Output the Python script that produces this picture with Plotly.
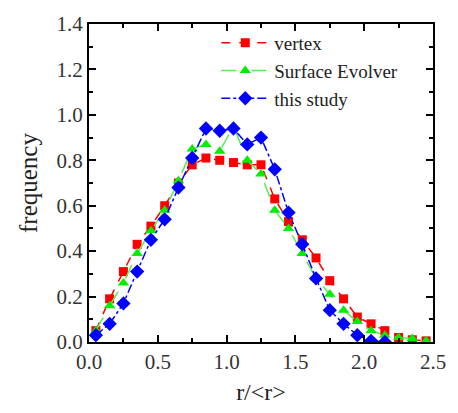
import plotly.graph_objects as go

# bin centres of r/<r>
r_bins = [0.05, 0.15, 0.25, 0.35, 0.45, 0.55, 0.65, 0.75, 0.85, 0.95,
          1.05, 1.15, 1.25, 1.35, 1.45, 1.55, 1.65, 1.75, 1.85, 1.95,
          2.05, 2.15, 2.25, 2.35, 2.45]

vertex = [0.05, 0.19, 0.31, 0.43, 0.51, 0.60, 0.70, 0.78, 0.81, 0.80,
          0.79, 0.78, 0.78, 0.63, 0.53, 0.45, 0.37, 0.27, 0.19, 0.11,
          0.08, 0.05, 0.02, 0.01, 0.005]

surface_evolver = [0.05, 0.16, 0.26, 0.39, 0.49, 0.58, 0.71, 0.85, 0.87, 0.84,
                   0.95, 0.80, 0.74, 0.58, 0.50, 0.39, 0.28, 0.21, 0.14, 0.09,
                   0.05, 0.03, 0.02, 0.015, 0.005]

this_study = [0.03, 0.08, 0.17, 0.31, 0.45, 0.54, 0.68, 0.81, 0.94, 0.93,
              0.94, 0.87, 0.90, 0.76, 0.57, 0.43, 0.28, 0.14, 0.08, 0.03,
              0.005, 0.0]

x_ticks = [0.0, 0.5, 1.0, 1.5, 2.0, 2.5]
y_ticks = [0.0, 0.2, 0.4, 0.6, 0.8, 1.0, 1.2, 1.4]

FONT = "'Liberation Serif', 'Times New Roman', Times, serif"

fig = go.Figure()
fig.add_trace(go.Scatter(
    x=r_bins, y=vertex, name="vertex", mode="lines+markers",
    line=dict(color="#ff0000", width=1.5, dash="dash"),
    marker=dict(symbol="square", size=9, color="#ff0000"),
))
fig.add_trace(go.Scatter(
    x=r_bins, y=surface_evolver, name="Surface Evolver", mode="lines+markers",
    line=dict(color="#55ee55", width=1.5, dash="longdash"),
    marker=dict(symbol="triangle-up", size=10, color="#00ee00"),
))
fig.add_trace(go.Scatter(
    x=r_bins[:len(this_study)], y=this_study, name="this study", mode="lines+markers",
    line=dict(color="#0000ff", width=1.5, dash="dashdot"),
    marker=dict(symbol="diamond", size=11, color="#0000ff"),
))

axis_common = dict(
    showline=True, linecolor="black", linewidth=2, mirror="ticks",
    ticks="inside", ticklen=7, tickwidth=2, tickcolor="black",
    showgrid=False, zeroline=False,
    tickfont=dict(family=FONT, size=21, color="#333333"),
)

fig.update_xaxes(
    range=[0, 2.5], tickvals=x_ticks, ticktext=[f"{v:.1f}" for v in x_ticks],
    minor=dict(ticks="inside", ticklen=4, tickwidth=1.5, tickcolor="black", dtick=0.25, tick0=0),
    title=dict(text="r/&lt;r&gt;", font=dict(family=FONT, size=24, color="#222222"), standoff=10),
    **axis_common,
)
fig.update_yaxes(
    range=[0, 1.4], tickvals=y_ticks, ticktext=[f"{v:.1f}" for v in y_ticks],
    minor=dict(ticks="inside", ticklen=4, tickwidth=1.5, tickcolor="black", dtick=0.1, tick0=0),
    title=dict(text="frequency", font=dict(family=FONT, size=25, color="#222222"), standoff=12),
    **axis_common,
)

fig.update_layout(
    width=458, height=413,
    margin=dict(l=89, r=14, t=15, b=70),
    paper_bgcolor="white", plot_bgcolor="white",
    font=dict(family=FONT, color="#222222"),
    legend=dict(
        x=0.37, y=1.0, xanchor="left", yanchor="top",
        font=dict(family=FONT, size=19, color="#222222"),
        bgcolor="rgba(0,0,0,0)", tracegroupgap=0, itemwidth=48,
    ),
)

fig.write_html("out.html")
